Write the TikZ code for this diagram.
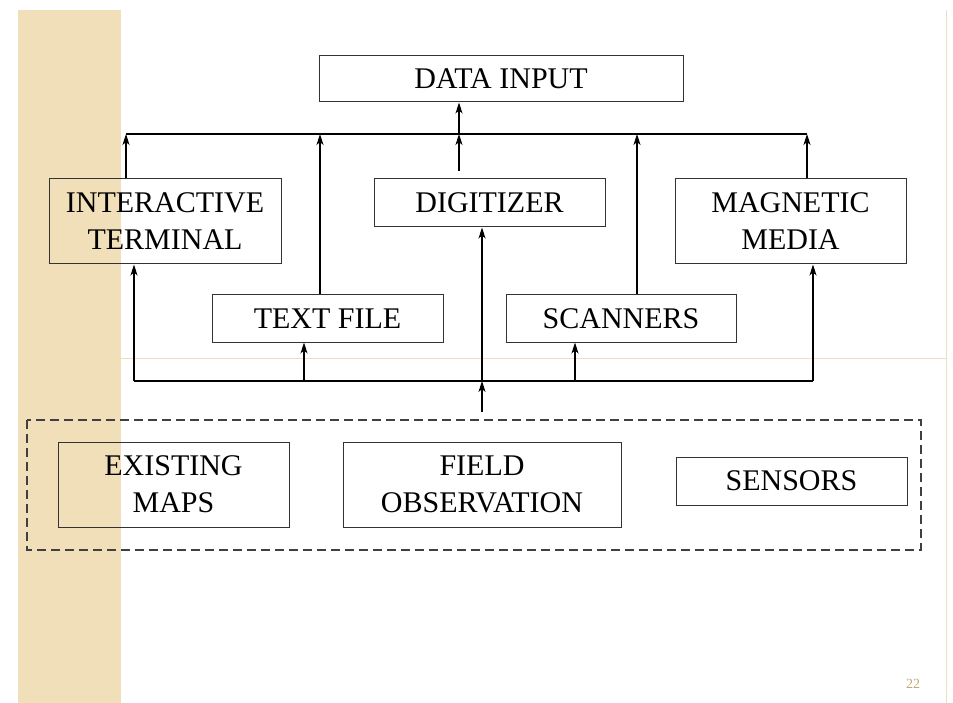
\documentclass[tikz,border=0pt]{standalone}
\usepackage{fontspec}
\setmainfont{Liberation Serif}
\usetikzlibrary{arrows.meta}

\definecolor{franja}{RGB}{240,223,184}
\definecolor{guia}{RGB}{236,222,190}
\definecolor{numpag}{RGB}{196,168,118}

\begin{document}
\begin{tikzpicture}[x=1pt,y=-1pt,
  caja/.style={draw=black!80,line width=1pt,inner sep=0pt,align=center,
    font=\fontsize{30}{37}\selectfont},
  flecha/.style={line width=1.1pt,-{Stealth[length=11pt,width=7pt,inset=3pt]}},
  bus/.style={line width=2pt}]

\useasboundingbox (0,0) rectangle (953,703);

% Franja lateral y guias
\fill[franja] (18,10) rectangle (121,703);
\draw[guia,line width=0.7pt] (121,358) -- (946,358);
\draw[guia,line width=0.9pt] (946,10) -- (946,703);
\node[text=numpag,font=\fontsize{14}{16}\selectfont] (pag) at (913,684) {22};

% Cajas
\node[caja,minimum width=364,minimum height=46] (datos) at (501,79) {DATA INPUT};
\node[caja,minimum width=232,minimum height=85] (terminal) at (165,221.5) {INTERACTIVE\\TERMINAL};
\node[caja,minimum width=231,minimum height=48] (digit) at (489.5,203) {DIGITIZER};
\node[caja,minimum width=231,minimum height=85] (magnet) at (790.5,221.5) {MAGNETIC\\MEDIA};
\node[caja,minimum width=231,minimum height=47] (texto) at (327.5,318.5) {TEXT FILE};
\node[caja,minimum width=230,minimum height=47] (escaner) at (621,318.5) {SCANNERS};
\node[caja,minimum width=231,minimum height=85] (mapas) at (173.5,484.5) {EXISTING\\MAPS};
\node[caja,minimum width=278,minimum height=85] (campo) at (482,484.5) {FIELD\\OBSERVATION};
\node[caja,minimum width=231,minimum height=48] (sensor) at (791.5,481) {SENSORS};

% Recuadro de fuentes
\draw[black!75,line width=1.1pt,dash pattern=on 9pt off 5pt] (27,420) rectangle (921,550);
\coordinate (fuentes) at (482,412);

% Barras
\coordinate (supIzq) at (126,134);
\coordinate (supDer) at (807,134);
\coordinate (infIzq) at (134,381);
\coordinate (infDer) at (813,381);
\draw[bus] (supIzq) -- (supDer);
\draw[bus] (infIzq) -- (infDer);

% Flechas hacia la barra superior
\draw[flecha] (terminal.north -| supIzq) -- (supIzq);
\draw[flecha] ([xshift=-7.5pt]texto.north) -- ([xshift=-7.5pt]texto.north |- supIzq);
\draw[flecha] ([xshift=-30.5pt,yshift=7pt]digit.north) -- ([xshift=-30.5pt]digit.north |- supIzq);
\draw[flecha] ([xshift=16pt]escaner.north) -- ([xshift=16pt]escaner.north |- supIzq);
\draw[flecha] (magnet.north -| supDer) -- (supDer);
\draw[flecha] ([xshift=-42pt]datos.south |- supIzq) -- ([xshift=-42pt]datos.south);

% Flechas desde la barra inferior
\draw[flecha] (fuentes) -- (fuentes |- infIzq);
\draw[flecha] (fuentes |- infIzq) -- (fuentes |- digit.south);
\draw[flecha] (infIzq) -- (infIzq |- terminal.south);
\draw[flecha] ([xshift=-23.5pt]texto.south |- infIzq) -- ([xshift=-23.5pt]texto.south);
\draw[flecha] ([xshift=-46pt]escaner.south |- infIzq) -- ([xshift=-46pt]escaner.south);
\draw[flecha] (infDer) -- (infDer |- magnet.south);

\end{tikzpicture}
\end{document}
